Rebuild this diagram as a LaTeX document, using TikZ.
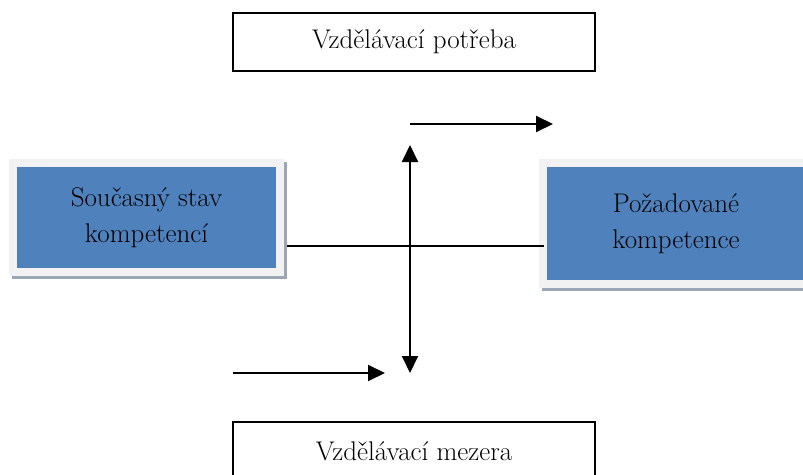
\documentclass[tikz,border=0pt]{standalone}
\usetikzlibrary{arrows.meta}
\definecolor{cblue}{RGB}{79,129,189}
\definecolor{cframe}{RGB}{242,242,242}
\definecolor{cshade}{RGB}{155,167,181}
\newcommand\fsz{\fontsize{27}{36}\selectfont}
\tikzset{
  >={Triangle[length=17pt,width=16pt]},
  gap/.style={draw=black,fill=white,line width=1.6pt,minimum width=362pt,minimum height=58pt,inner sep=0pt,font=\fsz},
  % blue state box: light frame round it, grey shadow to the lower right
  cmp/.style={fill=cblue,draw=cframe,line width=8pt,inner sep=0pt,align=center,font=\fsz,
    preaction={fill=cshade,draw=cshade,transform canvas={xshift=3pt,yshift=-3pt}}},
  lnk/.style={draw=black,line width=2pt},
  msg/.style={->,line width=2pt,draw=black},
}
\begin{document}
\begin{tikzpicture}[x=1pt,y=-1pt]
\useasboundingbox (0,0) rectangle (803,474);
% ---- the two states
\node[cmp,minimum width=267pt,minimum height=109pt] (now) at (146.5,217.5) {Současný stav\\kompetencí};
\node[cmp,minimum width=266pt,minimum height=121pt] (goal) at (676,223.5) {Požadované\\kompetence};
% ---- need above, gap below
\node[gap] (need) at (414,42) {Vzdělávací potřeba};
\node[gap] (gapb) at (414,451) {Vzdělávací mezera};
% ---- connectors
\coordinate (x) at (410,246);
\coordinate (up) at (410,145); \coordinate (dn) at (410,373);
\coordinate (t1) at (410,124); \coordinate (t2) at (553,124);
\coordinate (b1) at (233,373); \coordinate (b2) at (385,373);
\draw[lnk,shorten <=3pt,shorten >=-5pt] (now.east |- x) -- (goal.west |- x);
\draw[msg,<->] (up) -- (dn);
\draw[msg] (t1) -- (t2);
\draw[msg] (b1) -- (b2);
\end{tikzpicture}
\end{document}
